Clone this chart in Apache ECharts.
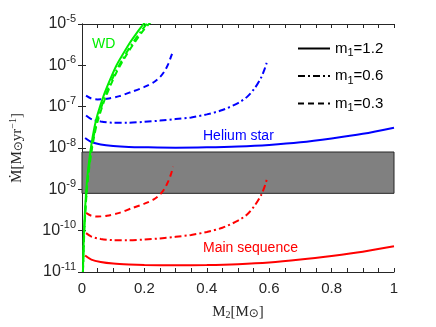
<!DOCTYPE html>
<html>
<head>
<meta charset="utf-8">
<script src="https://cdn.jsdelivr.net/npm/echarts@6/dist/echarts.min.js"></script>
<style>
  html, body { margin: 0; padding: 0; background: #fff; }
  #chart { width: 436px; height: 327px; }
</style>
</head>
<body>
<div id="chart"></div>
<script>
// 数据：M2 (x) 与 Mdot (y)
var xSolid = [0.01, 0.03, 0.06, 0.1, 0.15, 0.2, 0.3, 0.4, 0.5, 0.6, 0.7, 0.8, 0.9, 1.0];
var msSolid = [2.5e-11, 2.0e-11, 1.75e-11, 1.6e-11, 1.52e-11, 1.48e-11, 1.46e-11, 1.48e-11, 1.55e-11, 1.7e-11, 2.0e-11, 2.45e-11, 3.1e-11, 4.2e-11];
var heSolid = [1.75e-8, 1.4e-8, 1.22e-8, 1.12e-8, 1.06e-8, 1.04e-8, 1.02e-8, 1.04e-8, 1.09e-8, 1.19e-8, 1.37e-8, 1.7e-8, 2.2e-8, 3.1e-8];

var xDashDot = [0.013, 0.03, 0.06, 0.1, 0.15, 0.2, 0.25, 0.3, 0.35, 0.4, 0.45, 0.5, 0.53, 0.555, 0.575, 0.585, 0.592];
var msDashDot = [8.7e-11, 7.2e-11, 6.3e-11, 5.9e-11, 5.9e-11, 6.1e-11, 6.5e-11, 7.1e-11, 7.9e-11, 9.3e-11, 1.18e-10, 1.75e-10, 2.5e-10, 4.2e-10, 7.5e-10, 1.15e-9, 1.7e-9];
var heDashDot = [6.1e-8, 5.0e-8, 4.4e-8, 4.1e-8, 4.1e-8, 4.3e-8, 4.6e-8, 5.0e-8, 5.5e-8, 6.5e-8, 8.3e-8, 1.22e-7, 1.75e-7, 2.9e-7, 5.2e-7, 8.0e-7, 1.15e-6];

var xDashed = [0.013, 0.03, 0.05, 0.08, 0.12, 0.16, 0.2, 0.23, 0.25, 0.265, 0.277, 0.285, 0.292];
var msDashed = [2.7e-10, 2.3e-10, 2.2e-10, 2.3e-10, 2.7e-10, 3.5e-10, 4.5e-10, 5.7e-10, 7.5e-10, 1.05e-9, 1.6e-9, 2.3e-9, 3.5e-9];
var heDashed = [1.85e-7, 1.58e-7, 1.5e-7, 1.55e-7, 1.8e-7, 2.3e-7, 3.0e-7, 3.9e-7, 5.2e-7, 7.3e-7, 1.1e-6, 1.6e-6, 2.2e-6];

var xWD = [0.003, 0.006, 0.01, 0.015, 0.02, 0.03, 0.04, 0.05, 0.07, 0.09, 0.11, 0.13, 0.15, 0.17, 0.19, 0.21, 0.22];
var wdSolid = [1e-11, 8e-11, 3.5e-10, 1.3e-9, 3.2e-9, 1.2e-8, 3.2e-8, 6.5e-8, 1.9e-7, 4.5e-7, 9.8e-7, 1.8e-6, 3.2e-6, 5.3e-6, 8.5e-6, 1.3e-5, 1.6e-5];
var wdDashDot = [1e-11, 6e-11, 2.6e-10, 9.8e-10, 2.4e-9, 9e-9, 2.4e-8, 5e-8, 1.45e-7, 3.5e-7, 7.5e-7, 1.4e-6, 2.5e-6, 4.2e-6, 6.8e-6, 1.05e-5, 1.3e-5];
var wdDashed = [1e-11, 5e-11, 2.2e-10, 8.5e-10, 2.1e-9, 7.8e-9, 2.1e-8, 4.4e-8, 1.3e-7, 3.1e-7, 6.6e-7, 1.25e-6, 2.2e-6, 3.7e-6, 6e-6, 9.2e-6, 1.1e-5];

var band = [8e-10, 8e-9];
var legendNames = ['m1=1.2', 'm1=0.6', 'm1=0.3'];

var SANS = '"Liberation Sans", Arial, sans-serif';
var SERIF = '"Liberation Serif", "DejaVu Serif", serif';
var AXC = '#262626';
var DASH = [6, 4];
var DASHDOT = [7, 3, 2, 3];

function zip(xs, ys) {
    return xs.map(function (x, i) { return [x, ys[i]]; });
}

function curve(name, xs, ys, color, type, z) {
    return {
        name: name, type: 'line', data: zip(xs, ys), symbol: 'none',
        smooth: 0.3, z: z || 2, silent: true,
        lineStyle: { color: color, width: 2, type: type }
    };
}

var myChart = echarts.init(document.getElementById('chart'));

var axisCommon = {
    axisLine: { show: true, lineStyle: { color: AXC, width: 1 } },
    axisTick: { show: true, inside: true, length: 4, lineStyle: { color: AXC } },
    splitLine: { show: false }
};

var series = [
    curve('ms1', xSolid, msSolid, '#ff0000', 'solid'),
    curve('ms2', xDashDot, msDashDot, '#ff0000', DASHDOT),
    curve('ms3', xDashed, msDashed, '#ff0000', DASH),
    curve('he1', xSolid, heSolid, '#0000ff', 'solid'),
    curve('he2', xDashDot, heDashDot, '#0000ff', DASHDOT),
    curve('he3', xDashed, heDashed, '#0000ff', DASH),
    curve('wd3', xWD, wdDashed, '#00ee00', DASH, 3),
    curve('wd2', xWD, wdDashDot, '#00ee00', DASHDOT, 3),
    curve('wd1', xWD, wdSolid, '#00ee00', 'solid', 3)
];
// 灰色带
series[0].markArea = {
    silent: true,
    itemStyle: { color: '#808080', borderColor: AXC, borderWidth: 1 },
    data: [[{ yAxis: band[0] }, { yAxis: band[1] }]]
};
// 图例用的黑线
[['solid', 0], [DASHDOT, 1], [DASH, 2]].forEach(function (d) {
    series.push({
        name: legendNames[d[1]], type: 'line', data: [], symbol: 'none',
        itemStyle: { color: '#000' },
        lineStyle: { color: '#000', width: 2, type: d[0] }
    });
});

var option = {
    animation: false,
    grid: { left: 76, top: 24, width: 318, height: 248 },
    legend: {
        data: legendNames,
        orient: 'vertical',
        left: 292, top: 36,
        itemWidth: 32, itemHeight: 14, itemGap: 10,
        selectedMode: false,
        itemStyle: { color: 'rgba(0,0,0,0)', borderWidth: 0, opacity: 0 },
        formatter: function (n) {
            return '{a|m}{s|1}{a|' + n.slice(2) + '}';
        },
        textStyle: {
            fontFamily: SANS, color: '#000', fontSize: 15,
            rich: {
                a: { fontFamily: SANS, fontSize: 15, color: '#000' },
                s: { fontFamily: SANS, fontSize: 11, color: '#000', padding: [9, 0, 0, 0] }
            }
        }
    },
    xAxis: [
        Object.assign({
            type: 'value', min: 0, max: 1, interval: 0.2, position: 'bottom',
            minorTick: { show: true, splitNumber: 4, length: 4, lineStyle: { color: AXC } },
            axisLabel: {
                margin: 9, fontFamily: SANS, fontSize: 15, color: AXC,
                formatter: function (v) { return String(+v.toFixed(1)); }
            },
            name: '{a|M}{s|2}{a|[M}{o|⊙}{a|]}',
            nameLocation: 'middle', nameGap: 32,
            nameTextStyle: {
                fontFamily: SERIF, fontSize: 15, color: AXC,
                rich: {
                    a: { fontFamily: SERIF, fontSize: 15, color: AXC },
                    s: { fontFamily: SERIF, fontSize: 10, color: AXC, padding: [6, 0, 0, 0] },
                    o: { fontFamily: '"DejaVu Sans", sans-serif', fontSize: 12, color: AXC, padding: [3, 0, 0, 0] }
                }
            }
        }, axisCommon),
        Object.assign({
            type: 'value', min: 0, max: 1, interval: 0.2, position: 'top',
            minorTick: { show: true, splitNumber: 4, length: 4, lineStyle: { color: AXC } },
            axisLabel: { show: false }
        }, axisCommon)
    ],
    yAxis: [
        Object.assign({
            type: 'log', logBase: 10, min: 1e-11, max: 1e-5, interval: 1, position: 'left',
            axisLabel: {
                margin: 6,
                formatter: function (v) {
                    var e = Math.round(Math.log(v) / Math.LN10);
                    return '{b|10}{e|' + e + '}';
                },
                rich: {
                    b: { fontFamily: SANS, fontSize: 16, color: AXC, lineHeight: 22 },
                    e: { fontFamily: SANS, fontSize: 11, color: AXC, verticalAlign: 'top', lineHeight: 12 }
                }
            },
            name: '{a|Ṁ[M}{o|⊙}{a|yr}{e|−1}{a|]}',
            nameLocation: 'middle', nameGap: 56, nameRotate: 90,
            nameTextStyle: {
                fontFamily: SERIF, fontSize: 15, color: AXC,
                rich: {
                    a: { fontFamily: SERIF, fontSize: 15, color: AXC },
                    o: { fontFamily: '"DejaVu Sans", sans-serif', fontSize: 12, color: AXC, padding: [3, 0, 0, 0] },
                    e: { fontFamily: SERIF, fontSize: 10, color: AXC, padding: [0, 0, 8, 0] }
                }
            }
        }, axisCommon),
        Object.assign({
            type: 'log', logBase: 10, min: 1e-11, max: 1e-5, interval: 1, position: 'right',
            axisLabel: { show: false }
        }, axisCommon)
    ],
    graphic: [
        { type: 'text', left: 92, top: 37, style: { text: 'WD', fill: '#00ee00', font: '14px ' + SANS } },
        { type: 'text', left: 203, top: 129, style: { text: 'Helium star', fill: '#0000ff', font: '14px ' + SANS } },
        { type: 'text', left: 203, top: 241, style: { text: 'Main sequence', fill: '#ff0000', font: '14px ' + SANS } }
    ],
    series: series
};

myChart.setOption(option);
</script>
</body>
</html>
